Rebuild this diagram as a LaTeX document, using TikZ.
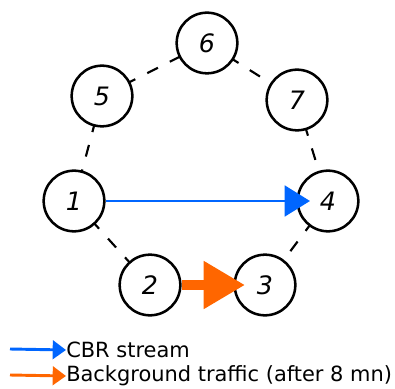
\documentclass[tikz,border=0pt]{standalone}
\usepackage{fontspec}
\setmainfont{DejaVu Sans}
\usetikzlibrary{arrows.meta}
\definecolor{cbrblue}{HTML}{0066FF}
\definecolor{bgorange}{HTML}{FF6600}
\begin{document}
\begin{tikzpicture}[x=0.75pt,y=-0.75pt,
  nd/.style={circle,draw=black,line width=1.9pt,minimum size=45.5pt,inner sep=0pt,fill=white,font=\itshape\fontsize{19}{21}\selectfont},
  link/.style={line width=1.6pt,dash pattern=on 9pt off 10pt},
  lbl/.style={anchor=west,inner sep=0pt,font=\fontsize{15.7}{17}\selectfont}]
\useasboundingbox (0,0) rectangle (395,388);
\coordinate (c6) at (207,43);
\coordinate (c5) at (102,96);
\coordinate (c7) at (297,100);
\coordinate (c1) at (74,201);
\coordinate (c4) at (328,201);
\coordinate (c2) at (150,285);
\coordinate (c3) at (265,285);
\draw[link] (c5) -- (c6);
\draw[link] (c6) -- (c7);
\draw[link] (c5) -- (c1);
\draw[link] (c7) -- (c4);
\draw[link] (c1) -- (c2);
\draw[link] (c4) -- (c3);
\node[nd] (n6) at (c6) {6};
\node[nd] (n5) at (c5) {5};
\node[nd] (n7) at (c7) {7};
\node[nd] (n1) at (c1) {1};
\node[nd] (n4) at (c4) {4};
\node[nd] (n2) at (c2) {2};
\node[nd] (n3) at (c3) {3};
\draw[cbrblue,line width=2.2pt,-{Triangle[length=19pt,width=23pt]}] (n1.east) -- ([xshift=-13.5pt]n4.center);
\draw[bgorange,line width=7.5pt,-{Triangle[length=31pt,width=34pt]}] (n2.east) -- ([xshift=-15pt]n3.center);
\coordinate (b0) at (10,349);
\node[lbl] (t1) at (66,350) {CBR stream};
\draw[cbrblue,line width=2.2pt,-{Triangle[length=10pt,width=14pt]}] (b0) -- (t1.west);
\coordinate (o0) at (10,375);
\node[lbl] (t2) at (66,376) {Background traffic (after 8 mn)};
\draw[bgorange,line width=2.2pt,-{Triangle[length=10pt,width=14pt]}] (o0) -- (t2.west);
\end{tikzpicture}
\end{document}
